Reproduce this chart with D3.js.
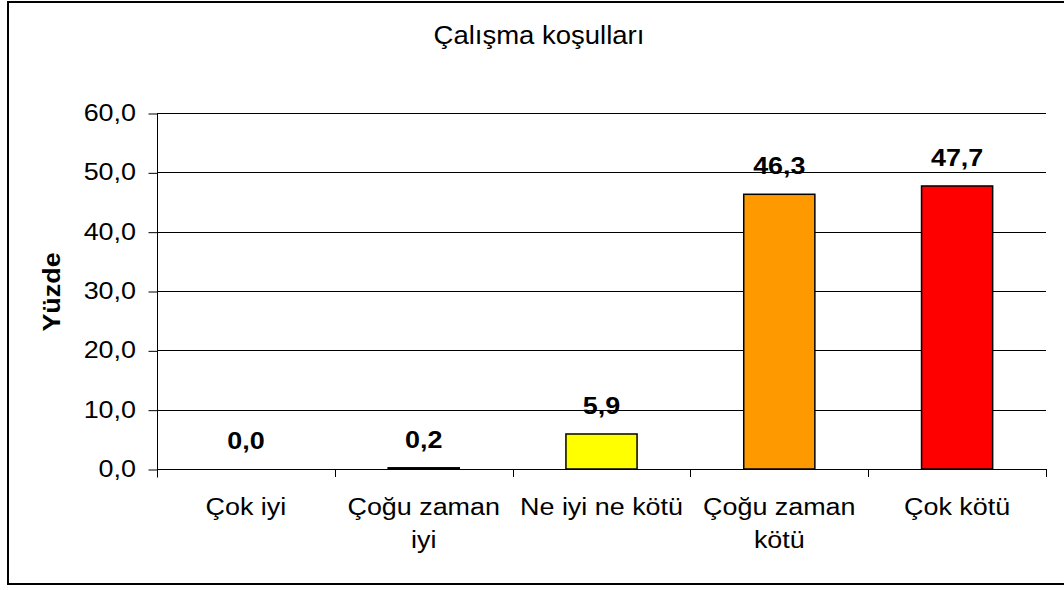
<!DOCTYPE html>
<html>
<head>
<meta charset="utf-8">
<script src="https://cdn.jsdelivr.net/npm/d3@7"></script>
<style>
  html, body { margin: 0; padding: 0; background: #fff; }
  svg { display: block; }
  text { font-family: "Liberation Sans", Arial, sans-serif; fill: #000; }
</style>
</head>
<body>
<svg id="chart" width="1064" height="590"></svg>
<script>
const title = "Çalışma koşulları";
const yAxisTitle = "Yüzde";
const categories = ["Çok iyi", "Çoğu zaman iyi", "Ne iyi ne kötü", "Çoğu zaman kötü", "Çok kötü"];
const values = [0.0, 0.2, 5.9, 46.3, 47.7];
const valueLabels = ["0,0", "0,2", "5,9", "46,3", "47,7"];
const barColors = ["#FFFFFF", "#000000", "#FFFF00", "#FF9900", "#FF0000"];
const yTicks = [0, 10, 20, 30, 40, 50, 60];
const yTickLabels = ["0,0", "10,0", "20,0", "30,0", "40,0", "50,0", "60,0"];

(function () {
const SX = 1.17; // horizontal text stretch seen in the reference
const svg = d3.select("#chart");

// outer frame
svg.append("rect")
  .attr("x", 8).attr("y", 2).attr("width", 1070).attr("height", 582)
  .attr("fill", "none").attr("stroke", "#000").attr("stroke-width", 2);

const pLeft = 157, pRight = 1046, pTop = 113, pBottom = 469;
const x = d3.scaleBand().domain(categories).range([pLeft, pRight])
  .paddingInner(0.6).paddingOuter(0.3);
const y = d3.scaleLinear().domain([0, 60]).range([pBottom, pTop]);

function stretchedText(g, tx, ty, str, opts) {
  return g.append("text")
    .attr("transform", `translate(${tx},${ty}) scale(${opts.sx || SX},1)`)
    .attr("text-anchor", opts.anchor || "middle")
    .style("font-size", (opts.size || 23) + "px")
    .style("font-weight", opts.weight || "normal")
    .text(str);
}

// title
stretchedText(svg, 539, 44, title, { size: 25, sx: 1.1 });

// gridlines
svg.append("g").selectAll("line").data(yTicks.slice(1)).join("line")
  .attr("x1", pLeft).attr("x2", pRight)
  .attr("y1", d => Math.round(y(d)) + 0.5).attr("y2", d => Math.round(y(d)) + 0.5)
  .attr("stroke", "#000").attr("stroke-width", 1);

// y axis
const yAxis = d3.axisLeft(y).tickValues(yTicks).tickSize(9)
  .tickFormat((d, i) => yTickLabels[i]);
const yg = svg.append("g").attr("transform", `translate(${pLeft + 0.5},0.5)`).call(yAxis);
yg.select(".domain").attr("stroke", "#000").attr("d", `M0,${pTop}V${pBottom + 8}`);
yg.selectAll(".tick line").attr("stroke", "#000");
yg.selectAll(".tick text").remove();
yTicks.forEach((v, i) => {
  stretchedText(svg, 136, y(v) + 8, yTickLabels[i], { anchor: "end" });
});

// y axis title (rotated)
svg.append("text")
  .attr("transform", `translate(60,292) rotate(-90) scale(${SX},1)`)
  .attr("text-anchor", "middle")
  .style("font-size", "23px").style("font-weight", "bold")
  .text(yAxisTitle);

// bars
svg.append("g").selectAll("rect").data(values).join("rect")
  .attr("x", (d, i) => x(categories[i]))
  .attr("y", d => y(d))
  .attr("width", x.bandwidth())
  .attr("height", d => pBottom - y(d))
  .attr("fill", (d, i) => barColors[i])
  .attr("stroke", "#000")
  .attr("stroke-width", d => d > 0 ? 1.5 : 0);

// x axis line and ticks
const boundaries = d3.range(categories.length + 1).map(i => x.range()[0] + i * x.step());
svg.append("line").attr("x1", pLeft).attr("x2", pRight)
  .attr("y1", pBottom + 0.5).attr("y2", pBottom + 0.5).attr("stroke", "#000");
svg.append("g").selectAll("line").data(boundaries).join("line")
  .attr("x1", d => Math.round(d) + 0.5).attr("x2", d => Math.round(d) + 0.5)
  .attr("y1", pBottom).attr("y2", pBottom + 8).attr("stroke", "#000");

// value labels
values.forEach((v, i) => {
  stretchedText(svg, x(categories[i]) + x.bandwidth() / 2, y(v) - 20, valueLabels[i], { weight: "bold" });
});

// category labels with wrapping
const maxW = x.step() - 4;
categories.forEach((c, i) => {
  const cx = x(c) + x.bandwidth() / 2;
  const words = c.split(" ");
  const lines = [];
  let cur = "";
  const probe = svg.append("text").style("font-size", "23px");
  words.forEach(w => {
    const test = cur ? cur + " " + w : w;
    probe.text(test);
    if (probe.node().getComputedTextLength() * SX > maxW && cur) {
      lines.push(cur); cur = w;
    } else cur = test;
  });
  lines.push(cur);
  probe.remove();
  lines.forEach((ln, j) => stretchedText(svg, cx, 515 + j * 33, ln, {}));
});
})();
</script>
</body>
</html>
